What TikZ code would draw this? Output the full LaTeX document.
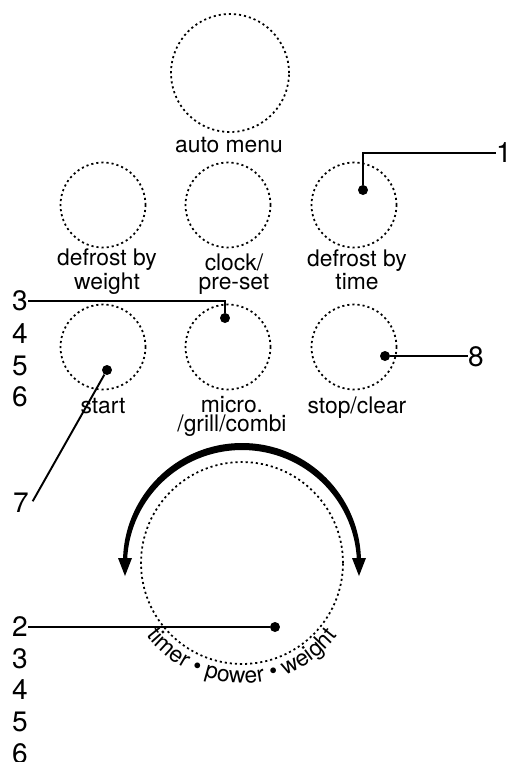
\documentclass[tikz,border=0pt]{standalone}
\usepackage{fontspec}
\setmainfont{TeX Gyre Heros}
\usetikzlibrary{decorations.text}

\begin{document}
\begin{tikzpicture}[x=0.02cm,y=-0.02cm,
	knob/.style={circle,draw,line width=1pt,dash pattern=on 1.2pt off 1.7pt,minimum size=1.7cm,inner sep=0pt},
	pin/.style={circle,fill,minimum size=0.2cm,inner sep=0pt},
	lead/.style={line width=1.1pt},
	lbl/.style={font=\fontsize{13}{10.8}\selectfont,align=center,anchor=base,inner sep=0pt},
	num/.style={font=\fontsize{16}{16}\selectfont,inner sep=0pt}]
	\useasboundingbox (0,0) rectangle (512,762);

	% buttons
	\node[knob,minimum size=2.36cm] (auto) at (230,73) {};
	\node[knob] (dweight) at (103,205) {};
	\node[knob] (clock) at (228,205) {};
	\node[knob] (dtime) at (354,205) {};
	\node[knob] (start) at (103,347) {};
	\node[knob] (micro) at (228,347) {};
	\node[knob] (stop) at (354,347) {};

	% button texts (base = last line)
	\node[lbl] (tauto) at (229,152) {auto menu};
	\node[lbl] (tdweight) at (107,289) {defrost by\\weight};
	\node[lbl] (tclock) at (234,289) {clock/\\pre-set};
	\node[lbl] (tdtime) at (357,289) {defrost by\\time};
	\node[lbl] (tstart) at (103,413) {start};
	\node[lbl] (tmicro) at (232,431) {micro.\\/grill/combi};
	\node[lbl] (tstop) at (357,413) {stop/clear};

	% dial
	\node[knob,minimum size=4.04cm] (dial) at (242,563) {};
	\fill (123,562) arc[start angle=180,end angle=360,radius=119] -- (357,565)
		arc[start angle=0,end angle=-180,radius=115] -- cycle;
	\fill (118,558) -- (132,558) -- (125,576) -- cycle;
	\fill (352,558) -- (366,558) -- (359,576) -- cycle;
	\path[decorate,decoration={text along path,text align=center,
		text={|\fontsize{13}{14}\selectfont|timer • power • weight}}]
		(133.2,613.7) arc[start angle=-205,end angle=-335,radius=120];

	% pins
	\node[pin] (d1) at (363,190) {};
	\node[pin] (d3) at (225,318) {};
	\node[pin] (d7) at (107,370) {};
	\node[pin] (d8) at (385,356) {};
	\node[pin] (d2) at (275,627) {};

	% numbers
	\node[num] (n1) at (504,153) {1};
	\node[num] (n3a) at (20,301) {3};
	\node[num] (n4a) at (20,334) {4};
	\node[num] (n5a) at (20,366) {5};
	\node[num] (n6a) at (20,397) {6};
	\node[num] (n7) at (21,503) {7};
	\node[num] (n8) at (476,357) {8};
	\node[num] (n2) at (20,627) {2};
	\node[num] (n3b) at (20,659) {3};
	\node[num] (n4b) at (20,690) {4};
	\node[num] (n5b) at (20,722) {5};
	\node[num] (n6b) at (20,754) {6};

	% leaders
	\draw[lead] (d1) |- (n1.west);
	\draw[lead] (n3a.east) -| (d3);
	\draw[lead] (d7) -- ([xshift=2pt,yshift=1pt]n7.east);
	\draw[lead] (d8) -- (d8 -| n8.west);
	\draw[lead] (n2.east) -- (d2);
\end{tikzpicture}
\end{document}
